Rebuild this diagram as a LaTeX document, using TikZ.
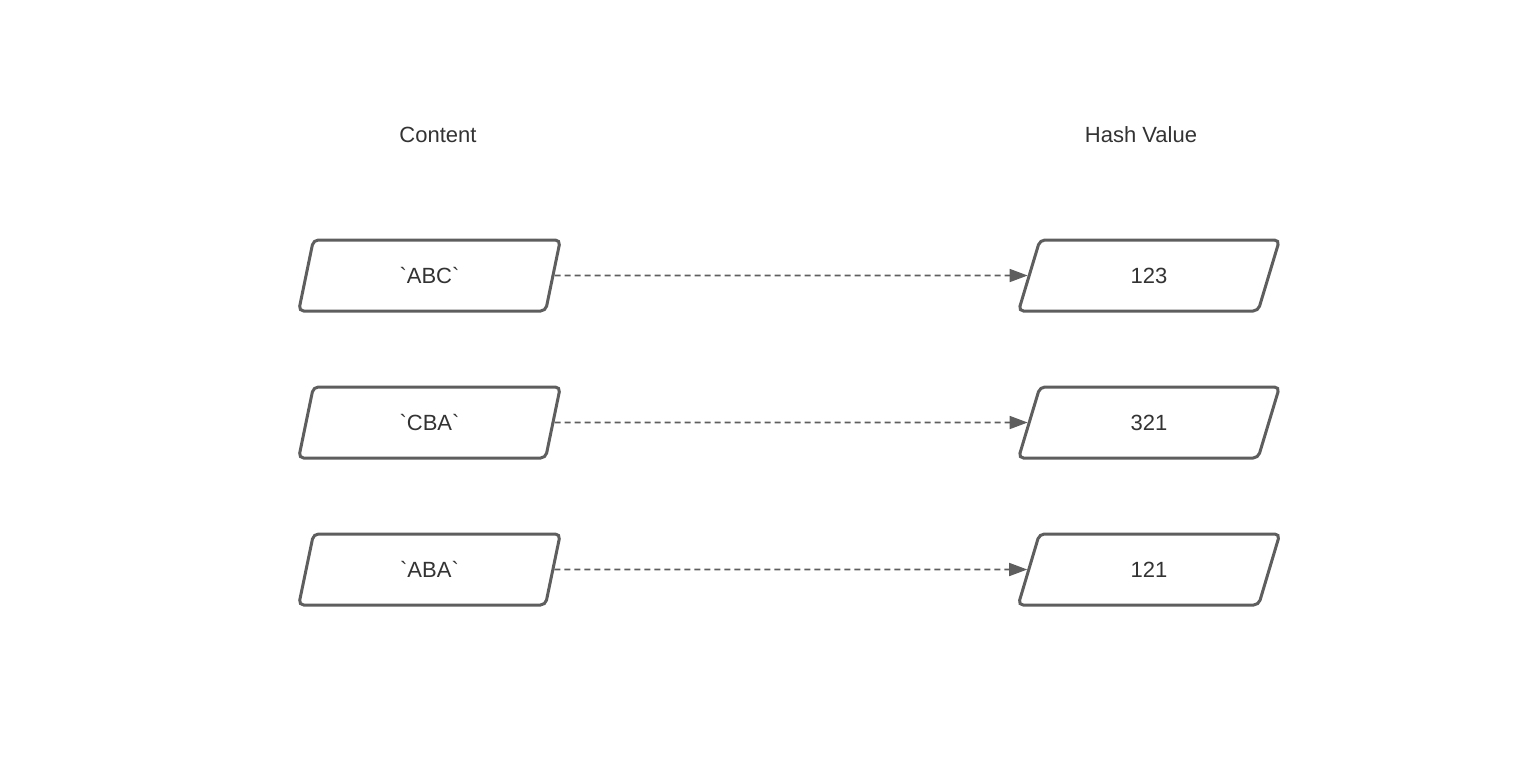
\documentclass[tikz,border=0pt]{standalone}
\usepackage{fontspec}
\setmainfont{Liberation Sans}
\usepackage{xcolor}
\usetikzlibrary{arrows.meta, positioning, shapes.geometric}
\definecolor{shapeborder}{RGB}{94,94,94}
\definecolor{textgray}{RGB}{51,51,51}

\begin{document}
\begin{tikzpicture}[
    x=1pt, y=-1pt,
    font=\fontsize{22}{26}\selectfont,
    text=textgray,
    data_node/.style={trapezium, trapezium left angle=77, trapezium right angle=103, trapezium stretches=true, minimum width=262pt, minimum height=71pt, rounded corners=5pt, draw=shapeborder, fill=white, line width=3pt, inner sep=0pt},
    title_node/.style={inner sep=0pt},
    arrow/.style={-{Triangle[length=18pt, width=13pt]}, dash pattern=on 6pt off 4pt, line width=1.6pt, draw=shapeborder}
]
\useasboundingbox (0,0) rectangle (1540,760);

% Column titles
\node[title_node] (tc) at (438,135) {Content};
\node[title_node] (th) at (1141,135) {Hash Value};

% Content column
\node[data_node] (c1) at (429.5,275.5) {\textasciigrave ABC\textasciigrave};
\node[data_node] (c2) at (429.5,422.5) {\textasciigrave CBA\textasciigrave};
\node[data_node] (c3) at (429.5,569.5) {\textasciigrave ABA\textasciigrave};

% Hash column
\node[data_node] (h1) at (1149,275.5) {123};
\node[data_node] (h2) at (1149,422.5) {321};
\node[data_node] (h3) at (1149,569.5) {121};

% Content -> Hash
\draw[arrow] (c1.east) -- (h1.west);
\draw[arrow] (c2.east) -- (h2.west);
\draw[arrow] (c3.east) -- (h3.west);

\end{tikzpicture}
\end{document}
